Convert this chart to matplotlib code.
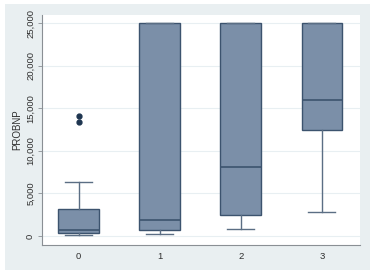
import matplotlib
matplotlib.use("Agg")
import matplotlib.pyplot as plt
from matplotlib.patches import Rectangle
from matplotlib.ticker import FuncFormatter

plt.rcParams["font.family"] = ["Liberation Sans", "DejaVu Sans"]

# box statistics (PROBNP by group)
groups = ["0", "1", "2", "3"]
whislo = [80, 270, 860, 2850]
q1 = [310, 700, 2460, 12480]
med = [700, 1880, 8130, 15930]
q3 = [3130, 25000, 25000, 25000]
whishi = [6370, 25000, 25000, 25000]
fliers = [[13340, 14120], [], [], []]

yticks = [0, 5000, 10000, 15000, 20000, 25000]

stats = []
for i in range(len(groups)):
    stats.append(dict(label=groups[i], whislo=whislo[i], q1=q1[i], med=med[i],
                      q3=q3[i], whishi=whishi[i], fliers=fliers[i]))

fig = plt.figure(figsize=(3.75, 2.75), dpi=100, facecolor="white")
fig.patches.append(Rectangle((5 / 375, 5 / 275), 365 / 375, 266 / 275,
                             transform=fig.transFigure, facecolor="#e9eff1",
                             edgecolor="none", zorder=-10))
ax = fig.add_axes([42 / 375, 30 / 275, 318 / 375, 230 / 275])
ax.set_zorder(5)
ax.set_facecolor("white")

fill = "#7b8fa8"
edge = "#3c536e"
line = "#5b6e84"
ax.bxp(stats, positions=range(len(groups)), widths=0.5, capwidths=0.33,
       patch_artist=True,
       boxprops=dict(facecolor=fill, edgecolor=edge, linewidth=1.0),
       medianprops=dict(color=edge, linewidth=1.2),
       whiskerprops=dict(color=line, linewidth=1.0),
       capprops=dict(color=line, linewidth=1.0),
       flierprops=dict(marker="o", markerfacecolor="#1e3550",
                       markeredgecolor="#1e3550", markersize=3.5))

ax.set_xlim(-0.45, 3.47)
ax.set_ylim(-1050, 25950)
ax.set_yticks(yticks)
ax.yaxis.set_major_formatter(FuncFormatter(lambda v, p: f"{int(v):,}"))
ax.grid(axis="y", color="#e8eff2", linewidth=0.8)
ax.set_axisbelow(True)

for s in ["top", "right"]:
    ax.spines[s].set_visible(False)
for s in ["left", "bottom"]:
    ax.spines[s].set_color("#8a8f94")
    ax.spines[s].set_linewidth(0.8)

ax.tick_params(axis="y", labelsize=6.8, labelcolor="#2f2f2f", color="#8a8f94",
               length=3, width=0.6, pad=2, labelrotation=90)
for lab in ax.get_yticklabels():
    lab.set_va("center")
ax.tick_params(axis="x", labelsize=6.8, labelcolor="#2f2f2f", length=0, pad=5)
ax.set_ylabel("PROBNP", fontsize=7, color="#2f2f2f", labelpad=3)

fig.savefig("out.png", dpi=100, facecolor=fig.get_facecolor())
